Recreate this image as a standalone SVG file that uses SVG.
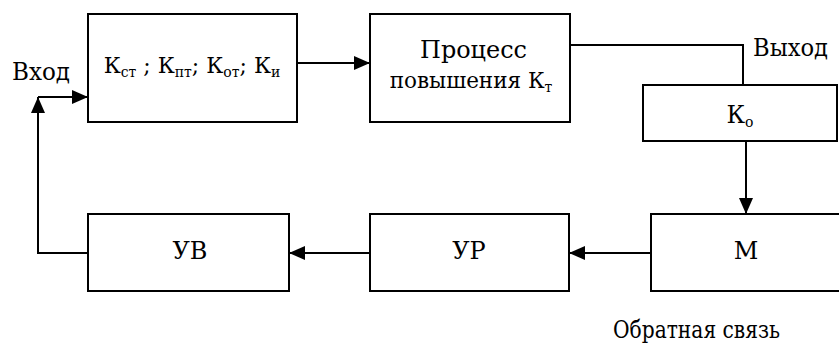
<svg xmlns="http://www.w3.org/2000/svg" width="839" height="343" viewBox="0 0 839 343">
  <style>
    .box { fill: #ffffff; stroke: #000000; stroke-width: 2; }
    .wire { fill: none; stroke: #000000; stroke-width: 2; }
    .lbl { font-family: 'DejaVu Serif', serif; font-size: 24px; fill: #000000; }
    .mid { text-anchor: middle; }
    .sub { font-size: 14px; }
  </style>
  <defs>
    <marker id="arrow" markerUnits="userSpaceOnUse" markerWidth="16" markerHeight="14" refX="16" refY="7" orient="auto">
      <path d="M0,0 L16,7 L0,14 Z" fill="#000000"/>
    </marker>
  </defs>

  <g id="connectors">
    <line class="wire" x1="297" y1="63" x2="370" y2="63" marker-end="url(#arrow)"/>
    <polyline class="wire" points="570,45 743,45 743,85"/>
    <line class="wire" x1="746" y1="141" x2="746" y2="214" marker-end="url(#arrow)"/>
    <line class="wire" x1="651" y1="253" x2="569" y2="253" marker-end="url(#arrow)"/>
    <line class="wire" x1="370" y1="253" x2="289" y2="253" marker-end="url(#arrow)"/>
    <polyline class="wire" points="88,253 38,253 38,97" marker-end="url(#arrow)"/>
    <line class="wire" x1="38" y1="97" x2="88" y2="97" marker-end="url(#arrow)"/>
  </g>

  <g id="coefficients">
    <rect class="box" x="88" y="14" width="209" height="108"/>
    <text class="lbl mid" x="192" y="73" style="font-size:22px">К<tspan class="sub" dy="4">ст</tspan><tspan dy="-4"> ; К</tspan><tspan class="sub" dy="4">пт</tspan><tspan dy="-4">; К</tspan><tspan class="sub" dy="4">от</tspan><tspan dy="-4">; К</tspan><tspan class="sub" dy="4">и</tspan></text>
  </g>

  <g id="process">
    <rect class="box" x="370" y="14" width="200" height="108"/>
    <text class="lbl" x="420" y="58" textLength="107" lengthAdjust="spacingAndGlyphs">Процесс</text>
    <text class="lbl mid" x="471" y="88" style="font-size:21.5px">повышения К<tspan class="sub" dy="4">т</tspan></text>
  </g>

  <g id="ko">
    <rect class="box" x="643" y="85" width="194" height="56"/>
    <text class="lbl mid" x="740" y="123">К<tspan class="sub" dy="4">о</tspan></text>
  </g>

  <g id="m">
    <rect class="box" x="651" y="214" width="200" height="77"/>
    <text class="lbl mid" x="746" y="259">М</text>
  </g>

  <g id="ur">
    <rect class="box" x="370" y="214" width="199" height="77"/>
    <text class="lbl mid" x="469" y="259">УР</text>
  </g>

  <g id="uv">
    <rect class="box" x="88" y="214" width="201" height="77"/>
    <text class="lbl mid" x="190" y="259">УВ</text>
  </g>

  <g id="labels">
    <text class="lbl" x="12" y="80" textLength="58" lengthAdjust="spacingAndGlyphs">Вход</text>
    <text class="lbl" x="753" y="56" textLength="75" lengthAdjust="spacingAndGlyphs">Выход</text>
    <text class="lbl" x="613" y="338" textLength="167" lengthAdjust="spacingAndGlyphs">Обратная связь</text>
  </g>
</svg>
